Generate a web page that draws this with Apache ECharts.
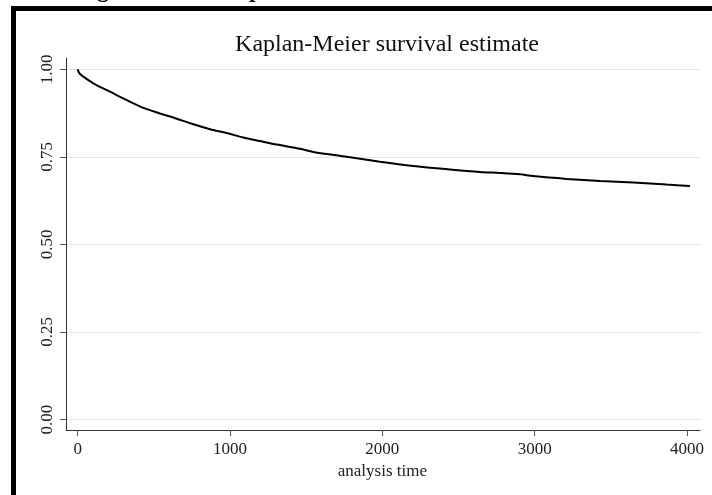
<!DOCTYPE html>
<html><head><meta charset="utf-8">
<script src="https://cdn.jsdelivr.net/npm/echarts@6/dist/echarts.min.js"></script>
<style>html,body{margin:0;padding:0;background:#fff}#c{width:712px;height:495px}</style>
</head><body><div id="c"></div>
<script>
var titleText = 'Kaplan-Meier survival estimate';
var xName = 'analysis time';
var xTicks = [0, 1000, 2000, 3000, 4000];
var yTicks = ['0.00', '0.25', '0.50', '0.75', '1.00'];
var times = [0, 10, 37, 102, 212, 322, 431, 540, 650, 759, 869, 978, 1087, 1197, 1307, 1460, 1547, 1766, 1985, 2204, 2423, 2641, 2773, 2904, 2991, 3211, 3430, 3648, 3867, 4020];
var surv  = [1.0, 0.989, 0.979, 0.960, 0.936, 0.912, 0.890, 0.874, 0.859, 0.843, 0.829, 0.818, 0.805, 0.795, 0.785, 0.773, 0.764, 0.750, 0.736, 0.724, 0.715, 0.707, 0.704, 0.700, 0.695, 0.687, 0.681, 0.677, 0.671, 0.667];

var serif = '"Liberation Serif", "DejaVu Serif", serif';
var pts = times.map(function (t, i) { return [t, surv[i]]; });
var chart = echarts.init(document.getElementById('c'), null, {renderer: 'canvas'});
var hidden = {show: false};
chart.setOption({
  animation: false,
  backgroundColor: '#fff',
  title: {text: titleText, left: 382, textAlign: 'center', top: 28,
    textStyle: {fontFamily: serif, fontSize: 24, fontWeight: 'normal', color: '#111'}},
  grid: [
    {left: 66, right: 12, top: 58, bottom: 65},
    {left: 66, right: 12, top: 69.3, bottom: 75.5},
    {left: 77.7, right: 25, top: 58, bottom: 65}
  ],
  xAxis: [
    {gridIndex: 0, type: 'value', min: -77, max: 4086, axisLine: {show: true, onZero: false, lineStyle: {color: '#333', width: 1}},
      axisTick: hidden, axisLabel: hidden, splitLine: hidden},
    {gridIndex: 1, type: 'value', min: -77, max: 4086, show: false},
    {gridIndex: 2, type: 'value', min: 0, max: 4000, interval: 1000,
      axisLine: {show: false, onZero: false}, splitLine: hidden,
      axisTick: {show: true, length: 6, lineStyle: {color: '#555'}},
      axisLabel: {margin: 11, fontFamily: serif, fontSize: 17, color: '#222',
        formatter: function (v) { return String(xTicks[Math.round(v / 1000)]); }},
      name: xName, nameLocation: 'middle', nameGap: 30,
      nameTextStyle: {fontFamily: serif, fontSize: 17, color: '#222'}}
  ],
  yAxis: [
    {gridIndex: 0, type: 'value', min: -0.031, max: 1.032, axisLine: {show: true, onZero: false, lineStyle: {color: '#333', width: 1}},
      axisTick: hidden, axisLabel: hidden, splitLine: hidden},
    {gridIndex: 1, type: 'value', min: 0, max: 1, interval: 0.25,
      axisLine: {show: false, onZero: false},
      axisTick: {show: true, length: 6, lineStyle: {color: '#555'}},
      axisLabel: {rotate: 90, margin: 10, fontFamily: serif, fontSize: 17, color: '#222',
        formatter: function (v) { return yTicks[Math.round(v / 0.25)]; }},
      splitLine: {show: true, lineStyle: {color: '#e6e6e6', width: 1.2}}},
    {gridIndex: 2, type: 'value', min: 0, max: 1, show: false}
  ],
  series: [{
    type: 'line', xAxisIndex: 1, yAxisIndex: 1, data: pts, showSymbol: false, smooth: 0.3,
    lineStyle: {color: '#000', width: 2}
  }],
  graphic: [
    {type: 'rect', shape: {x: 11, y: 6, width: 5, height: 495}, style: {fill: '#000'}},
    {type: 'rect', shape: {x: 11, y: 6, width: 712, height: 5}, style: {fill: '#000'}},
    {type: 'text', x: 97, y: 3, z: 10, style: {text: 'g', fontFamily: serif, fontWeight: 'bold', fontSize: 24, fill: '#000', textVerticalAlign: 'bottom'}},
    {type: 'text', x: 249, y: 3, z: 10, style: {text: 'p', fontFamily: serif, fontWeight: 'bold', fontSize: 24, fill: '#000', textVerticalAlign: 'bottom'}}
  ]
});
</script></body></html>
